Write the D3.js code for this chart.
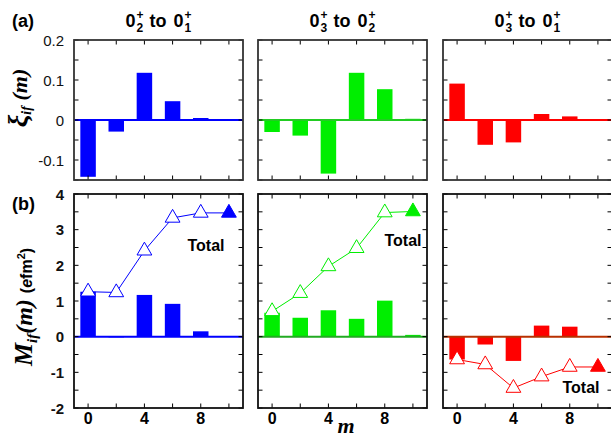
<!DOCTYPE html>
<html><head><meta charset="utf-8">
<script src="https://cdn.jsdelivr.net/npm/d3@7"></script>
<style>body{margin:0;background:#fff}svg{display:block}</style>
</head><body>
<svg id="c" width="611" height="439"></svg>
<script>
// ---- data ----
const mValues = [0, 2, 4, 6, 8, 10];
const panelTitles = [["0","2","0","1"], ["0","3","0","2"], ["0","3","0","1"]];
const seriesColors = ["#0000ff", "#00ee00", "#ff0000"];
const xi_02_01 = [-0.142, -0.029, 0.118, 0.047, 0.005, 0.001];
const xi_03_02 = [-0.030, -0.039, -0.134, 0.118, 0.077, 0.003];
const xi_03_01 = [0.091, -0.062, -0.056, 0.015, 0.009, 0.001];
const M_02_01 = [1.26, -0.02, 1.17, 0.92, 0.15, 0.0];
const M_03_02 = [0.67, 0.53, 0.74, 0.50, 1.01, 0.05];
const M_03_01 = [-0.64, -0.22, -0.68, 0.31, 0.28, 0.01];
const total_02_01 = [1.26, 1.24, 2.41, 3.33, 3.47, 3.47];
const total_03_02 = [0.71, 1.22, 1.97, 2.48, 3.48, 3.51];
const total_03_01 = [-0.64, -0.78, -1.44, -1.12, -0.85, -0.85];
const xTickLabels = [0, 4, 8];
const xiTickLabels = [0.2, 0.1, 0, -0.1];
const MTickLabels = [4, 3, 2, 1, 0, -1, -2];

const xiSeries = [xi_02_01, xi_03_02, xi_03_01];
const MSeries = [M_02_01, M_03_02, M_03_01];
const totalSeries = [total_02_01, total_03_02, total_03_01];
const zeroColors = ["#0000ff", "#22aa22", "#b83000"];
const totalPos = [[206, 251], [403, 246], [581, 393]];

// ---- layout ----
const svg = d3.select("#c");
const lefts = [74, 258, 443];
const pw = 169;
const topY = [40, 180], botY = [194, 408];
const sans = "'Liberation Sans', Arial, Helvetica, sans-serif";
const serif = "'Liberation Serif', 'Times New Roman', serif";

function panel(i, row) {
  const x0 = lefts[i];
  const x = d3.scaleLinear().domain([-1, 11]).range([x0, x0 + pw]);
  const [yt, yb] = row === 0 ? topY : botY;
  const y = row === 0 ? d3.scaleLinear().domain([-0.15, 0.2]).range([yb, yt])
                      : d3.scaleLinear().domain([-2, 4]).range([yb, yt]);
  const g = svg.append("g");
  const data = row === 0 ? xiSeries[i] : MSeries[i];
  const col = seriesColors[i];
  const bw = x(1.1) - x(0);
  // bars
  g.selectAll("rect.bar").data(mValues).join("rect")
    .attr("x", m => x(m) - bw / 2)
    .attr("width", bw)
    .attr("y", (m, k) => y(Math.max(0, data[k])))
    .attr("height", (m, k) => Math.abs(y(data[k]) - y(0)))
    .attr("fill", col);
  // zero line
  g.append("line").attr("x1", x0).attr("x2", x0 + pw)
    .attr("y1", y(0)).attr("y2", y(0))
    .attr("stroke", row === 0 ? (i === 1 ? "#22cc22" : col) : zeroColors[i]).attr("stroke-width", 2);
  // totals
  if (row === 1) {
    const tot = totalSeries[i];
    const line = d3.line().x((m) => x(m)).y((m, k) => y(tot[k]));
    g.append("path").datum(mValues).attr("d", line)
      .attr("fill", "none").attr("stroke", col).attr("stroke-width", 1);
    const sym = d3.symbol(d3.symbolTriangle, 95);
    g.selectAll("path.tri").data(mValues).join("path")
      .attr("class", "tri")
      .attr("d", sym)
      .attr("transform", (m, k) => `translate(${x(m)},${y(tot[k])})`)
      .attr("fill", (m, k) => k === mValues.length - 1 ? col : "#fff")
      .attr("stroke", col).attr("stroke-width", 1);
    g.append("text").attr("x", totalPos[i][0]).attr("y", totalPos[i][1])
      .attr("text-anchor", "middle").attr("font-family", sans)
      .attr("font-weight", "bold").attr("font-size", 16).text("Total");
  }
  // ticks (inward, all sides)
  const tk = 4.5;
  const ax = g.append("g").attr("stroke", "#000").attr("stroke-width", 1);
  mValues.forEach(m => {
    ax.append("line").attr("x1", x(m)).attr("x2", x(m)).attr("y1", yb).attr("y2", yb - tk);
    ax.append("line").attr("x1", x(m)).attr("x2", x(m)).attr("y1", yt).attr("y2", yt + tk);
  });
  const yTicks = row === 0 ? d3.range(-0.15, 0.2001, 0.05) : d3.range(-2, 4.001, 0.5);
  yTicks.forEach(v => {
    ax.append("line").attr("x1", x0).attr("x2", x0 + tk).attr("y1", y(v)).attr("y2", y(v));
    ax.append("line").attr("x1", x0 + pw).attr("x2", x0 + pw - tk).attr("y1", y(v)).attr("y2", y(v));
  });
  // frame
  g.append("rect").attr("x", x0).attr("y", yt).attr("width", pw).attr("height", yb - yt)
    .attr("fill", "none").attr("stroke", row === 0 ? "#333" : "#111").attr("stroke-width", 1.8);
  // tick labels
  if (i === 0) {
    const labs = row === 0 ? xiTickLabels : MTickLabels;
    g.selectAll("text.yl").data(labs).join("text")
      .attr("x", x0 - 10).attr("y", v => y(v) + 5.5)
      .attr("text-anchor", "end").attr("font-family", sans)
      .attr("font-size", 15).attr("font-weight", row === 0 ? "normal" : "bold")
      .attr("fill", "#111")
      .text(v => row === 0 ? (v === 0 ? "0" : d3.format(".1f")(v)).replace("\u2212", "-") : String(v));
  }
  if (row === 1) {
    g.selectAll("text.xl").data(xTickLabels).join("text")
      .attr("x", m => x(m)).attr("y", yb + 16)
      .attr("text-anchor", "middle").attr("font-family", sans)
      .attr("font-size", 16).attr("font-weight", "bold").text(m => m);
  }
  return x;
}

for (let i = 0; i < 3; i++) { panel(i, 0); panel(i, 1); }

// titles: 0_a^+ to 0_b^+
function title(cx, parts) {
  const g = svg.append("g");
  const fs = 18, small = 12;
  let cur = 0;
  function add(txt, size, dy) {
    return g.append("text").attr("x", cur).attr("y", dy)
      .attr("font-family", sans).attr("font-weight", "bold").attr("font-size", size).text(txt);
  }
  function state(n, sub) {
    const t0 = add(n, fs, 0);
    cur += t0.node().getComputedTextLength() + 1;
    const sp = add("+", small, -8);
    const sb = add(sub, small, 5);
    cur += Math.max(sp.node().getComputedTextLength(), sb.node().getComputedTextLength());
  }
  state(parts[0], parts[1]);
  cur += 6;
  const to = add("to", fs, 0); cur += to.node().getComputedTextLength() + 7;
  state(parts[2], parts[3]);
  const w = cur;
  g.attr("transform", `translate(${cx - w / 2},27)`);
}
for (let i = 0; i < 3; i++) title(lefts[i] + pw / 2, panelTitles[i]);

// panel letters
svg.append("text").attr("x", 12).attr("y", 27).attr("font-family", sans)
  .attr("font-weight", "bold").attr("font-size", 18).text("(a)");
svg.append("text").attr("x", 12).attr("y", 210).attr("font-family", sans)
  .attr("font-weight", "bold").attr("font-size", 18).text("(b)");

// y-axis titles
const yl1 = svg.append("text").attr("transform", "translate(27,98) rotate(-90)")
  .attr("text-anchor", "middle").attr("font-family", serif).attr("font-weight", "bold").attr("font-style", "italic");
yl1.append("tspan").attr("font-size", 28).text("ξ");
yl1.append("tspan").attr("font-size", 14).attr("dy", 4).text("if");
yl1.append("tspan").attr("font-size", 22).attr("dy", -4).text(" (m)");

const yl2 = svg.append("text").attr("transform", "translate(32,307) rotate(-90)")
  .attr("text-anchor", "middle").attr("font-family", serif).attr("font-weight", "bold");
yl2.append("tspan").attr("font-size", 26).attr("font-style", "italic").text("M");
yl2.append("tspan").attr("font-size", 15).attr("font-style", "italic").attr("dy", 5).text("if");
yl2.append("tspan").attr("font-size", 24).attr("font-style", "italic").attr("dy", -5).text("(m) ");
yl2.append("tspan").attr("font-size", 16).attr("font-family", sans).text("(");
yl2.append("tspan").attr("font-size", 16).attr("font-family", sans).attr("font-style", "italic").text("e");
yl2.append("tspan").attr("font-size", 16).attr("font-family", sans).text("fm");
yl2.append("tspan").attr("font-size", 11).attr("font-family", sans).attr("dy", -7).text("2");
yl2.append("tspan").attr("font-size", 16).attr("font-family", sans).attr("dy", 7).text(")");

// x-axis title
svg.append("text").attr("x", 346).attr("y", 433).attr("text-anchor", "middle")
  .attr("font-family", serif).attr("font-style", "italic").attr("font-weight", "bold")
  .attr("font-size", 22).text("m");
</script>
</body></html>
